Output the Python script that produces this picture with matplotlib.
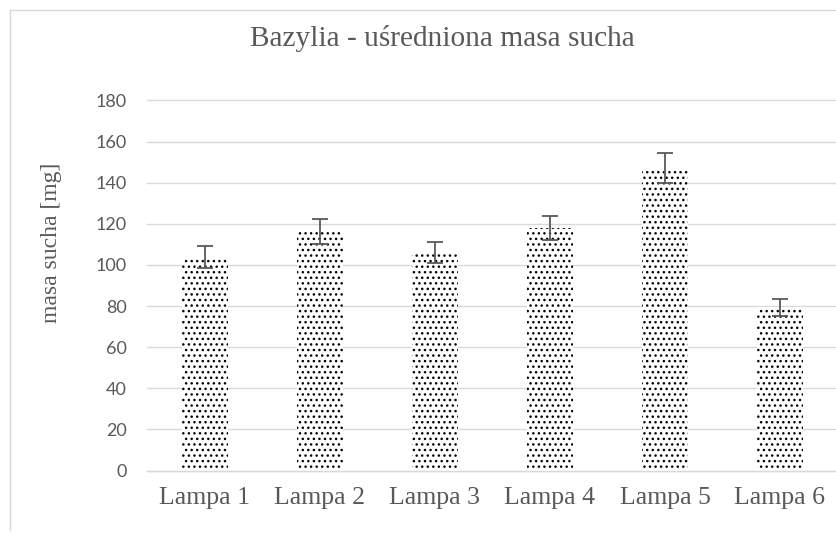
import matplotlib.pyplot as plt
from matplotlib.lines import Line2D

lamps = ["Lampa 1", "Lampa 2", "Lampa 3", "Lampa 4", "Lampa 5", "Lampa 6"]
dry_mass = [103.7, 116.3, 106.0, 118.0, 147.3, 79.3]
dry_mass_err = [5.4, 5.9, 5.2, 6.0, 7.3, 3.9]
y_ticks = [0, 20, 40, 60, 80, 100, 120, 140, 160, 180]

W, H = 837, 539
fig = plt.figure(figsize=(W / 100, H / 100), dpi=100)
ax = fig.add_axes([147.5 / W, (H - 470.5) / H, (837.5 - 147.5) / W, 370 / H])

x = range(len(lamps))
ax.bar(x, dry_mass, width=0.4, color="white", edgecolor="black",
       linewidth=0, hatch="...", zorder=2)
ax.errorbar(x, dry_mass, yerr=dry_mass_err, fmt="none", ecolor="#595959",
            elinewidth=1.3, capsize=6, capthick=1.3, zorder=3)

ax.set_xlim(-0.5, len(lamps) - 0.5)
ax.set_ylim(0, 180)
ax.set_yticks(y_ticks)
ax.set_xticks(list(x))
ax.set_xticklabels(lamps, family="Liberation Serif", fontsize=18.5, color="#595959")
ax.tick_params(axis="y", length=0, pad=15, labelsize=13, labelcolor="#595959")
ax.tick_params(axis="x", length=0, pad=12)
for lbl in ax.get_yticklabels():
    lbl.set_family("Lato")

ax.grid(axis="y", color="#d9d9d9", linewidth=1.0, zorder=0)
for gl in ax.get_ygridlines():
    gl.set_clip_on(False)
for side in ["top", "right", "left"]:
    ax.spines[side].set_visible(False)
ax.spines["bottom"].set_color("#d9d9d9")
ax.spines["bottom"].set_linewidth(1.0)

ax.set_ylabel("masa sucha [mg]", family="Liberation Serif", fontsize=17,
              color="#595959")
ax.yaxis.set_label_coords((62 - 147.5) / 690, (470.5 - 243) / 370)

fig.text(442 / W, 1 - 38 / H, "Bazylia - uśredniona masa sucha",
         family="Liberation Serif", fontsize=21.2, color="#595959",
         ha="center", va="center")

# chart area frame (left and top edges)
fig.add_artist(Line2D([10 / W, 10 / W], [1 - 10 / H, 1 - 530 / H],
                      color="#d9d9d9", linewidth=1.0))
fig.add_artist(Line2D([10 / W, 1.0], [1 - 10 / H, 1 - 10 / H],
                      color="#d9d9d9", linewidth=1.0))

fig.savefig("out.png", dpi=100)
